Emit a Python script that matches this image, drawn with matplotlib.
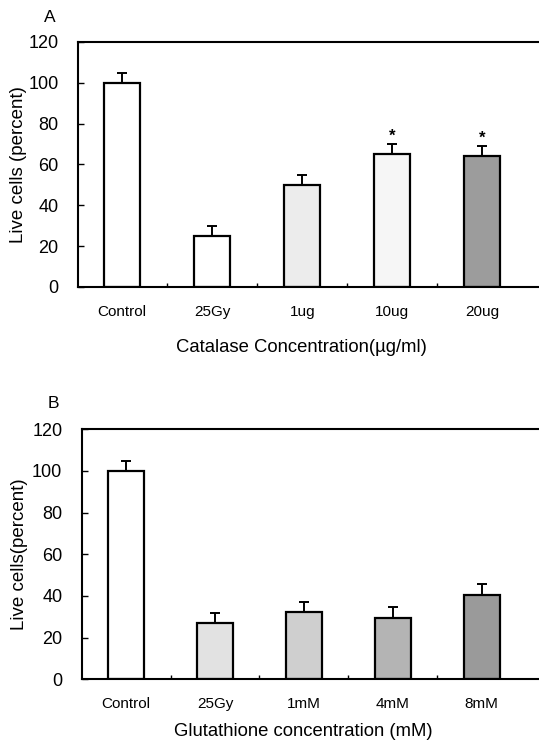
import matplotlib
matplotlib.use("Agg")
import matplotlib.pyplot as plt
import numpy as np

plt.rcParams['font.family'] = ['Liberation Sans', 'DejaVu Sans']

cats_a = ["Control", "25Gy", "1ug", "10ug", "20ug"]
vals_a = [100, 25, 50, 65, 64]
errs_a = [5, 5, 5, 5, 5]
sig_a = ["", "", "", "*", "*"]
colors_a = ["#ffffff", "#ffffff", "#ececec", "#f6f6f6", "#9c9c9c"]

cats_b = ["Control", "25Gy", "1mM", "4mM", "8mM"]
vals_b = [100, 27, 32.5, 29.5, 40.5]
errs_b = [5, 5, 4.5, 5, 5.3]
colors_b = ["#ffffff", "#e2e2e2", "#cfcfcf", "#b4b4b4", "#9a9a9a"]

yticks = [0, 20, 40, 60, 80, 100, 120]

fig = plt.figure(figsize=(5.39, 7.46), dpi=100)

def panel(rect, cats, vals, errs, colors, xlim, width, xlabel, ylabel, letter, letter_pos,
          ylab_x, xlab_y, sig=None):
    ax = fig.add_axes(rect)
    x = np.arange(len(cats))
    ax.bar(x, vals, width=width, color=colors, edgecolor="black", linewidth=1.6, zorder=2)
    ax.errorbar(x, vals, yerr=[np.zeros(len(vals)), errs], fmt="none", ecolor="black",
                elinewidth=1.4, capsize=3.5, capthick=1.4, zorder=3)
    if sig is not None:
        for xi, v, e, s in zip(x, vals, errs, sig):
            if s:
                ax.text(xi, v + e + 0.3, s, ha="center", va="bottom", fontsize=12, fontweight="bold")
    ax.set_xlim(*xlim)
    ax.set_ylim(0, 120)
    ax.set_yticks(yticks)
    ax.set_yticklabels([str(t) for t in yticks], fontsize=13)
    ax.set_xticks(x)
    ax.set_xticklabels(cats, fontsize=11)
    ax.set_xticks(x[:-1] + 0.5, minor=True)
    ax.tick_params(axis="y", direction="in", length=4, width=1, pad=14)
    ax.tick_params(axis="x", which="major", length=0, pad=13)
    ax.tick_params(axis="x", which="minor", direction="in", length=3, width=1)
    for s in ["left", "top", "bottom"]:
        ax.spines[s].set_linewidth(1.5)
    ax.spines["right"].set_visible(False)
    ax.set_xlabel(xlabel, fontsize=13.3, va="center")
    ax.set_ylabel(ylabel, fontsize=13.5, va="center")
    ax.yaxis.set_label_coords(ylab_x, 0.5)
    ax.xaxis.set_label_coords(0.5 * (1 + 0.0), xlab_y)
    fig.text(letter_pos[0], letter_pos[1], letter, fontsize=12.5, ha="center", va="center")
    return ax

axA = panel([0.1447, 0.6153, 0.8553, 0.3284], cats_a, vals_a, errs_a, colors_a,
            (-0.49, 4.63), 0.4, "Catalase Concentration(\u00b5g/ml)", "Live cells (percent)",
            "A", (50/539, 1 - 17/746), -0.130, -0.245, sig=sig_a)
axB = panel([0.1516, 0.0894, 0.8484, 0.3351], cats_b, vals_b, errs_b, colors_b,
            (-0.5, 4.645), 0.405, "Glutathione concentration (mM)", "Live cells(percent)",
            "B", (53/539, 1 - 403/746), -0.135, -0.21)
# center x-labels under the visible bars area as in the reference
axA.xaxis.set_label_coords((301 - 78) / 461, -0.245)
axB.xaxis.set_label_coords((303 - 81.7) / 457.3, -0.21)

fig.savefig("out.png", dpi=100)
